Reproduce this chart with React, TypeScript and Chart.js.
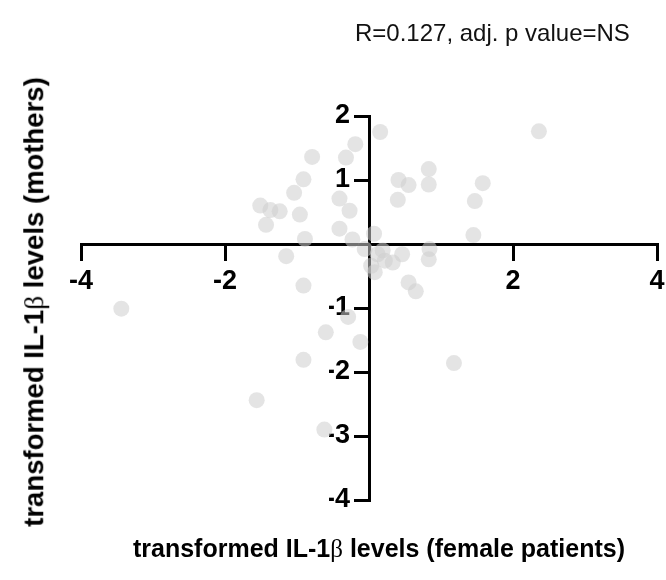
import React, { useEffect, useRef } from "react";
import { Chart, registerables } from "chart.js";

Chart.register(...registerables);

const xValues = [
  -0.19, -0.32, -0.79, -0.91, -1.04, -0.41, -0.27, -1.51, -1.37, -1.24, -0.96, -1.43,
  -0.41, -0.89, -0.23, 0.07, 0.155, 0.83, 0.41, 0.55, 0.83, 1.58, 0.4, 1.47,
  1.45, 2.36, -0.06, 0.19, 0.12, 0.08, 0.33, 0.46, 0.84, 0.83, 0.55, 0.65,
  0.22, 0.03, -1.15, -0.91, -0.29, -0.6, -0.12, -0.91, 1.18, -1.56, -0.62, -3.44,
];
const yValues = [
  1.56, 1.35, 1.36, 1.01, 0.8, 0.71, 0.52, 0.6, 0.53, 0.51, 0.46, 0.3,
  0.24, 0.08, 0.07, 0.16, 1.75, 1.17, 1.0, 0.92, 0.93, 0.95, 0.69, 0.67,
  0.14, 1.76, -0.08, -0.1, -0.16, -0.44, -0.29, -0.16, -0.08, -0.24, -0.6, -0.74,
  -0.26, -0.34, -0.19, -0.65, -1.14, -1.38, -1.53, -1.81, -1.86, -2.44, -2.9, -1.01,
];
const xTickValues = [-4, -2, 2, 4];
const yTickValues = [-4, -3, -2, -1, 1, 2];
const titleText = "R=0.127, adj. p value=NS";
const yTitleParts = ["transformed IL-1", "β", " levels (mothers)"];
const xTitleParts = ["transformed IL-1", "β", " levels (female patients)"];

const FONT = "'Liberation Sans', Arial, Helvetica, sans-serif";
const Y_AXIS_WIDTH = 40;

const moveYAxisPlugin = {
  id: "moveYAxis",
  afterLayout(chart: any) {
    const ys = chart.scales.y;
    const xs = chart.scales.x;
    if (!ys || !xs) return;
    const px = xs.getPixelForValue(0);
    const w = ys.right - ys.left;
    ys.right = px;
    ys.left = px - w;
  },
};

export default function App() {
  const canvasRef = useRef<HTMLCanvasElement | null>(null);

  useEffect(() => {
    const canvas = canvasRef.current;
    if (!canvas) return;
    const points = xValues.map((x, i) => ({ x, y: yValues[i] }));
    const gridOpts = {
      display: true,
      drawOnChartArea: false,
      drawTicks: true,
      tickLength: 15,
      tickWidth: 3,
      tickColor: "#000",
      lineWidth: 3,
    };
    const chart = new Chart(canvas, {
      type: "scatter",
      data: {
        datasets: [
          {
            data: points,
            pointRadius: 8,
            pointHoverRadius: 8,
            pointBackgroundColor: "rgba(206,206,206,0.55)",
            pointBorderWidth: 0,
            borderWidth: 0,
            clip: false,
          },
        ],
      },
      options: {
        animation: false,
        responsive: false,
        devicePixelRatio: 1,
        layout: { padding: { left: 81 - Y_AXIS_WIDTH, right: 9, top: 116, bottom: 80 } },
        plugins: {
          legend: { display: false },
          tooltip: { enabled: false },
          title: { display: false },
        },
        scales: {
          x: {
            type: "linear",
            min: -4,
            max: 4,
            position: { y: 0 },
            afterBuildTicks: (scale: any) => {
              scale.ticks = xTickValues.map((v) => ({ value: v }));
            },
            afterFit: (scale: any) => {
              scale.paddingLeft = 0;
              scale.paddingRight = 0;
              scale.paddingTop = 0;
              scale.paddingBottom = 0;
            },
            ticks: {
              color: "#000",
              font: { family: FONT, size: 27, weight: "bold" },
              padding: 6,
              maxRotation: 0,
              autoSkip: false,
            },
            grid: gridOpts,
            border: { display: true, color: "#000", width: 3 },
          },
          y: {
            type: "linear",
            min: -4,
            max: 2,
            position: "left",
            afterBuildTicks: (scale: any) => {
              scale.ticks = yTickValues.map((v) => ({ value: v }));
            },
            afterFit: (scale: any) => {
              scale.width = Y_AXIS_WIDTH;
              scale.paddingLeft = 0;
              scale.paddingRight = 0;
              scale.paddingTop = 0;
              scale.paddingBottom = 0;
            },
            ticks: {
              color: "#000",
              font: { family: FONT, size: 27, weight: "bold" },
              padding: 4,
              autoSkip: false,
            },
            grid: gridOpts,
            border: { display: true, color: "#000", width: 3 },
          },
        },
      },
      plugins: [moveYAxisPlugin],
    });
    return () => chart.destroy();
  }, []);

  const beta: React.CSSProperties = {
    fontFamily: "'Liberation Serif', 'Times New Roman', serif",
    fontWeight: "normal",
  };

  return (
    <div
      style={{
        position: "fixed",
        left: 0,
        top: 0,
        width: 666,
        height: 580,
        background: "#fff",
        overflow: "hidden",
      }}
    >
      <canvas
        ref={canvasRef}
        width={666}
        height={580}
        style={{ position: "absolute", left: 0, top: 0, width: 666, height: 580 }}
      />
      <div
        style={{
          position: "absolute",
          left: 355,
          top: 33,
          transform: "translateY(-50%)",
          fontFamily: FONT,
          fontSize: 24,
          color: "#111",
          whiteSpace: "nowrap",
          lineHeight: 1,
        }}
      >
        {titleText}
      </div>
      <div
        style={{
          position: "absolute",
          left: 34,
          top: 302,
          transform: "translate(-50%, -50%) rotate(-90deg)",
          fontFamily: FONT,
          fontSize: 27.5,
          fontWeight: "bold",
          color: "#000",
          whiteSpace: "nowrap",
          lineHeight: 1,
        }}
      >
        {yTitleParts[0]}
        <span style={beta}>{yTitleParts[1]}</span>
        {yTitleParts[2]}
      </div>
      <div
        style={{
          position: "absolute",
          left: 379,
          top: 548,
          transform: "translate(-50%, -50%)",
          fontFamily: FONT,
          fontSize: 25,
          fontWeight: "bold",
          color: "#000",
          whiteSpace: "nowrap",
          lineHeight: 1,
        }}
      >
        {xTitleParts[0]}
        <span style={beta}>{xTitleParts[1]}</span>
        {xTitleParts[2]}
      </div>
    </div>
  );
}
